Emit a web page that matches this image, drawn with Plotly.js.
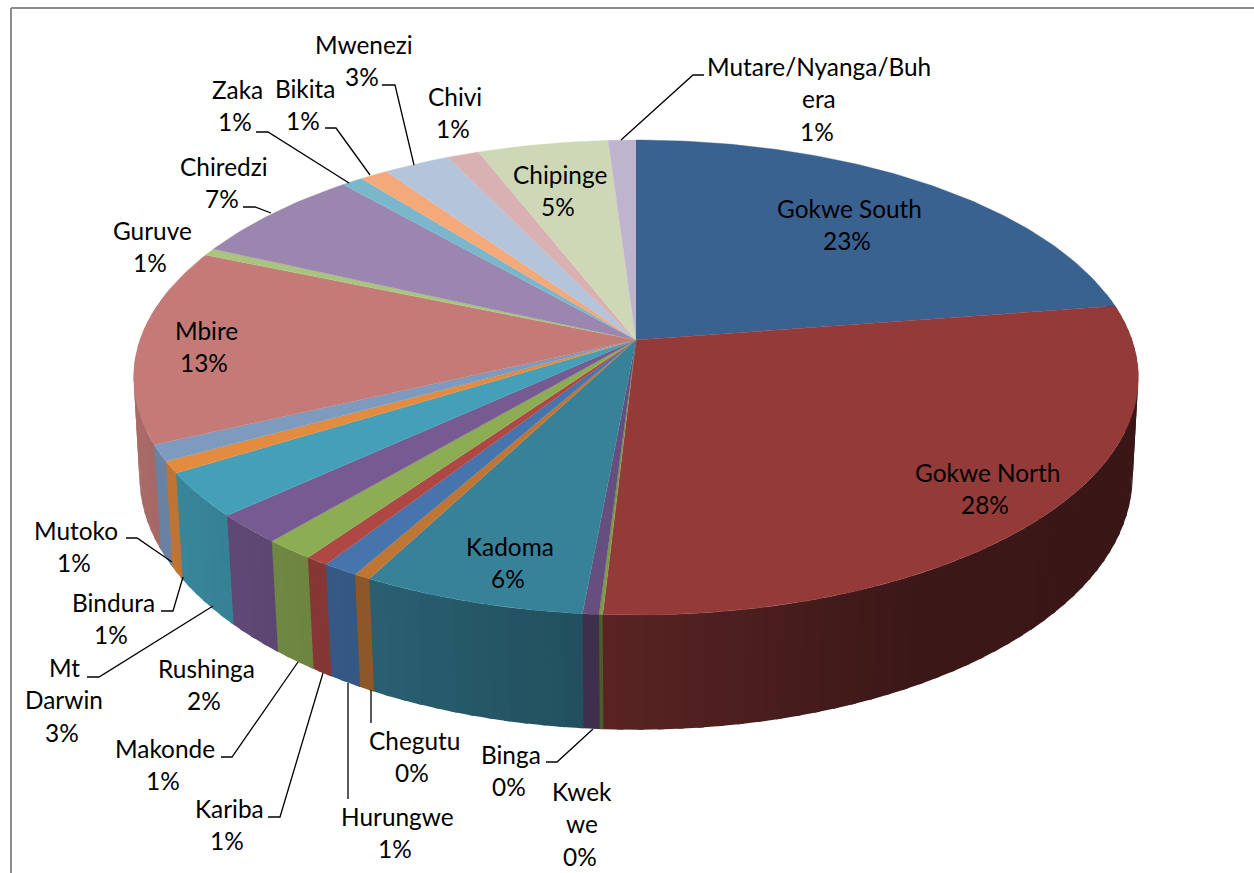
<!DOCTYPE html>
<html>
<head>
<meta charset="utf-8">
<script src="https://cdn.plot.ly/plotly-3.0.1.min.js"></script>
<style>html,body{margin:0;padding:0;background:#fff}#chart{width:1254px;height:873px}</style>
</head>
<body>
<div id="chart"></div>
<script>
// Districts clockwise from 12 o'clock
const districts = ["Gokwe South","Gokwe North","Kwekwe","Binga","Kadoma","Chegutu","Hurungwe","Kariba","Makonde","Rushinga","Mt Darwin","Bindura","Mutoko","Mbire","Guruve","Chiredzi","Zaka","Bikita","Mwenezi","Chivi","Chipinge","Mutare/Nyanga/Buhera"];
const shares = [22.6,28.3,0.1,0.45,6.2,0.47,1.0,0.65,1.4,2.0,3.0,0.8,1.1,13.3,0.5,6.65,0.8,1.05,2.5,1.2,4.9,1.03];
const colors = ["#3A6291","#943B3A","#7F9A48","#664F7F","#388299","#BF7534","#4675AE","#AF4845","#8DAD54","#765A91","#44A0B8","#E38B3E","#7D9ABF","#C47B78","#A9C47F","#9A86AE","#7AB7CC","#F4A97A","#B4C4DA","#D9B1B2","#CFD8B6","#BFB4CE"];
// How each label wraps, and where its first line sits
const labelWraps = [["Gokwe South"],["Gokwe North"],["Kwek","we"],["Binga"],["Kadoma"],["Chegutu"],["Hurungwe"],["Kariba"],["Makonde"],["Rushinga"],["Mt","Darwin"],["Bindura"],["Mutoko"],["Mbire"],["Guruve"],["Chiredzi"],["Zaka"],["Bikita"],["Mwenezi"],["Chivi"],["Chipinge"],["Mutare/Nyanga/Buh","era"]];
const labelX = [849,987,582,511,510,414,397,229,165,206,64,113,76,206,152,224,237,305,364,455,560,819];
const labelY = [208,472,791,754,546,740,816,808,748,668,667,602,530,330,230,166,89,88,44,96,174,66];
const leaders = [
  [[704,693,621],[75,75,140]],
  [[382,395,414],[85,85,165]],
  [[325,336,370],[128,128,175]],
  [[256,268,349],[132,132,183]],
  [[243,255,271],[207,207,213]],
  [[126,137,172],[538,538,562]],
  [[161,173,183],[611,611,577]],
  [[87,99,213],[677,677,606]],
  [[221,232,298],[757,757,662]],
  [[268,280,323],[817,817,673]],
  [[348,348],[683,799]],
  [[371,371],[690,723]],
  [[546,557,593],[762,762,729]]
];

const topRim = {cx:636, y0:340, w:496, s:231.6, k:0.158};
const botRim = {cx:636, y0:438, w:491, s:248, k:0.15};
function project(rim, deg){
  const a = deg*Math.PI/180, u = Math.sin(a), v = -Math.cos(a), d = 1-rim.k*v;
  return [rim.cx + rim.w*u/d, rim.y0 + rim.s*v/d];
}
function shade(hex, f){
  const n = parseInt(hex.slice(1),16);
  const c = [n>>16&255, n>>8&255, n&255].map(x=>Math.round(x*f));
  return "rgb("+c.join(",")+")";
}
function shadeFactor(u){
  const xs=[-1,-0.5,0,0.5,1], fs=[0.87,0.75,0.58,0.40,0.39];
  for(let i=0;i<4;i++){ if(u<=xs[i+1]){ const t=(u-xs[i])/(xs[i+1]-xs[i]); return fs[i]+t*(fs[i+1]-fs[i]); } }
  return fs[4];
}

const total = shares.reduce((a,b)=>a+b,0);
const sideTraces = [], topTraces = [];
let cum = 0;
shares.forEach((val,i)=>{
  const a0 = cum/total*360, a1 = (cum+val)/total*360;
  cum += val;
  // rim side, cut into narrow strips that overlap so no seam shows
  const from = Math.max(a0,78), to = Math.min(a1,282);
  if(to>from){
    const n = Math.max(1,Math.ceil((to-from)/2));
    for(let j=0;j<n;j++){
      const b0 = from+(to-from)*j/n, b1 = from+(to-from)*(j+1)/n;
      const b1x = b1+0.6;
      const p = [project(topRim,b0),project(topRim,b1x),project(botRim,b1x),project(botRim,b0)];
      const col = shade(colors[i], shadeFactor(Math.sin((b0+b1)/2*Math.PI/180)));
      sideTraces.push({type:"scatter",mode:"none",x:p.map(q=>q[0]),y:p.map(q=>q[1]),fill:"toself",fillcolor:col,hoverinfo:"skip",showlegend:false});
    }
  }
  // top face
  const xs=[topRim.cx], ys=[topRim.y0];
  const m = Math.max(2,Math.ceil(a1-a0));
  for(let j=0;j<=m;j++){ const q=project(topRim,a0+(a1-a0)*j/m); xs.push(q[0]); ys.push(q[1]); }
  topTraces.push({type:"scatter",mode:"lines",name:districts[i],x:xs,y:ys,fill:"toself",fillcolor:colors[i],line:{color:colors[i],width:0.4},hoverinfo:"name",showlegend:false});
});
const leaderTraces = leaders.map(l=>({type:"scatter",mode:"lines",x:l[0],y:l[1],line:{color:"#000",width:1.3},hoverinfo:"skip",showlegend:false}));

const LINE = 32.6;
const annotations = [];
labelWraps.forEach((lines,i)=>{
  const font = {family:"Lato, Carlito, sans-serif",size:24.4,color:"#000"};
  lines.forEach((t,j)=>annotations.push({x:labelX[i],y:labelY[i]+j*LINE,xref:"x",yref:"y",text:t,showarrow:false,xanchor:"center",yanchor:"middle",font}));
  annotations.push({x:labelX[i]-2,y:labelY[i]+lines.length*LINE,xref:"x",yref:"y",text:Math.round(shares[i])+"%",showarrow:false,xanchor:"center",yanchor:"middle",font});
});

const layout = {
  width:1254,height:873,margin:{l:0,r:0,t:0,b:0},
  paper_bgcolor:"#fff",plot_bgcolor:"#fff",showlegend:false,
  xaxis:{range:[0,1254],visible:false,fixedrange:true},
  yaxis:{range:[873,0],visible:false,fixedrange:true},
  annotations,
  shapes:[
    {type:"line",xref:"x",yref:"y",x0:11,x1:1254,y0:8,y1:8,line:{color:"#8c8c8c",width:2}},
    {type:"line",xref:"x",yref:"y",x0:11,x1:11,y0:8,y1:873,line:{color:"#8c8c8c",width:2}}
  ]
};
Plotly.newPlot("chart",[...sideTraces,...topTraces,...leaderTraces],layout,{displayModeBar:false});
</script>
</body>
</html>
